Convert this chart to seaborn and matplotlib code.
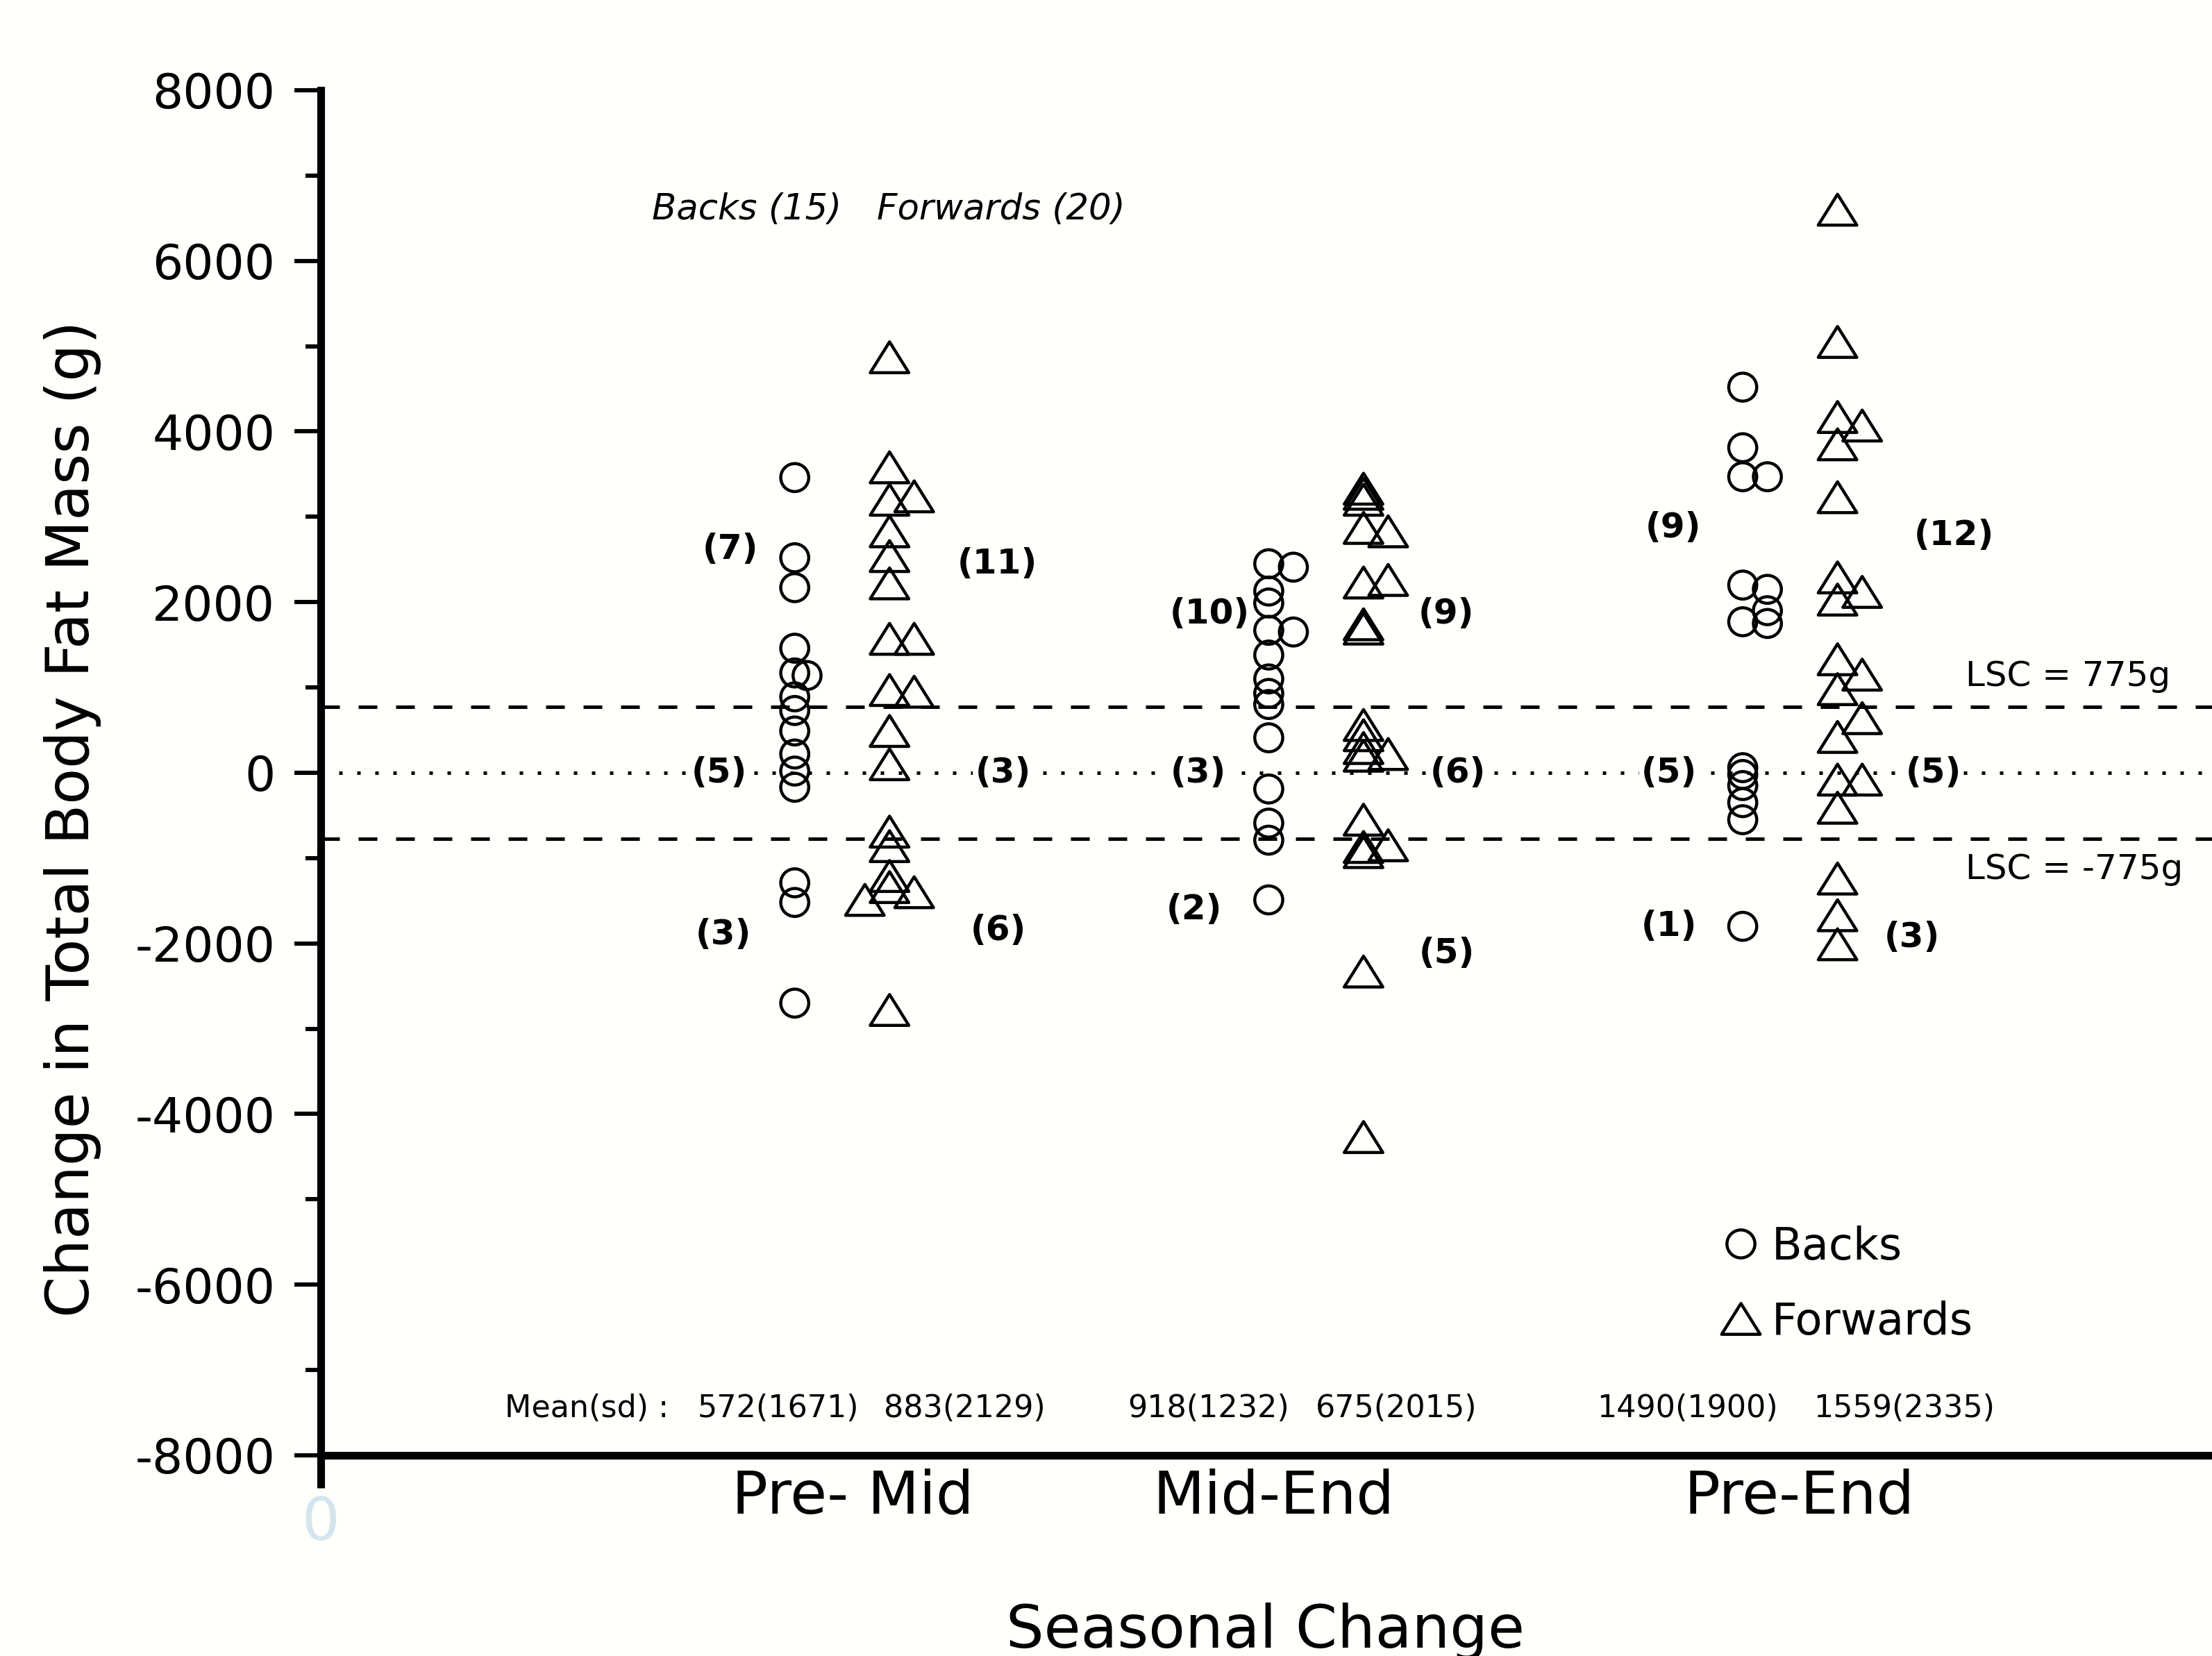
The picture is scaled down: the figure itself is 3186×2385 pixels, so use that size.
import matplotlib
matplotlib.use("Agg")
import matplotlib.pyplot as plt
import pandas as pd
import seaborn as sns
from matplotlib.lines import Line2D
from matplotlib.path import Path
from matplotlib.ticker import MultipleLocator

# ---- data ----------------------------------------------------------------
PERIODS = ["Pre- Mid", "Mid-End", "Pre-End"]
GROUPS = ["Backs", "Forwards"]

# change in total body fat mass (g) per player
PM_BACKS = [3460, 2520, 2170, 1460, 1170, 1140, 890, 730, 490, 220, 20, -170,
            -1290, -1520, -2700]
PM_FWDS = [4870, 3580, 3240, 3200, 2830, 2540, 2220, 1570, 1570, 970, 950,
           490, 100, -690, -860, -1210, -1340, -1400, -1490, -2780]
ME_BACKS = [2450, 2410, 2130, 1990, 1670, 1650, 1380, 1100, 930, 800, 410,
            -190, -590, -790, -1490]
ME_FWDS = [3330, 3270, 3200, 2870, 2830, 2260, 2230, 1740, 1690, 560, 440,
           290, 220, 200, -550, -850, -870, -930, -2330, -4270]
PE_BACKS = [4520, 3810, 3470, 3470, 2200, 2150, 1900, 1770, 1750, 60, -20,
            -150, -350, -550, -1800]
PE_FWDS = [6600, 5050, 4170, 4070, 3850, 3230, 2290, 2120, 2030, 1330, 1150,
           980, 640, 420, -80, -80, -410, -1240, -1670, -2010]

# side-step of overlapping symbols (0 = on the column, 1 = nudged right)
PM_BACKS_SIDE = [0, 0, 0, 0, 0, 0.5, 0, 0, 0, 0, 0, 0, 0, 0, 0]
PM_FWDS_SIDE = [0, 0, 1, 0, 0, 0, 0, 0, 1, 0, 1, 0, 0, 0, 0, 0, 0, 1, -1, 0]
ME_BACKS_SIDE = [0, 1, 0, 0, 0, 1, 0, 0, 0, 0, 0, 0, 0, 0, 0]
ME_FWDS_SIDE = [0, 0, 0, 0, 1, 1, 0, 0, 0, 0, 0, 0, 1, 0, 0, 1, 0, 0, 0, 0]
PE_BACKS_SIDE = [0, 0, 0, 1, 0, 1, 1, 0, 1, 0, 0, 0, 0, 0, 0]
PE_FWDS_SIDE = [0, 0, 0, 1, 0, 0, 0, 1, 0, 0, 1, 0, 1, 0, 0, 1, 0, 0, 0, 0]

# counts above / within / below the least significant change
LSC = 775
BACKS_N_ABOVE = [7, 10, 9]
BACKS_N_WITHIN = [5, 3, 5]
BACKS_N_BELOW = [3, 2, 1]
FWDS_N_ABOVE = [11, 9, 12]
FWDS_N_WITHIN = [3, 6, 5]
FWDS_N_BELOW = [6, 5, 3]

# group summaries, order: Pre-Mid B, F, Mid-End B, F, Pre-End B, F
MEANS = [572, 883, 918, 675, 1490, 1559]
SDS = [1671, 2129, 1232, 2015, 1900, 2335]

# ---- layout ---------------------------------------------------------------
PERIOD_X = {"Pre- Mid": 10, "Mid-End": 20, "Pre-End": 30}
GROUP_DX = {"Backs": 0, "Forwards": 2}
DODGE = 0.52
CAT_LABEL_X = [11.22, 20.1, 31.2]
MEAN_X = [9.65, 13.58, 18.73, 22.69, 28.84, 33.4]
BACKS_ABOVE_XY = [(8.64, 2620), (18.76, 1860), (28.54, 2870)]
BACKS_WITHIN_XY = [(8.4, 0), (18.52, 0), (28.45, 0)]
BACKS_BELOW_XY = [(8.49, -1900), (18.43, -1600), (28.45, -1800)]
FWDS_ABOVE_XY = [(14.27, 2450), (23.75, 1860), (34.46, 2780)]
FWDS_WITHIN_XY = [(14.39, 0), (23.99, 0), (34.02, 0)]
FWDS_BELOW_XY = [(14.29, -1850), (23.75, -2120), (33.57, -1930)]

BG = "#fffffc"
TRI = Path([(-1, -0.8), (1, -0.8), (0, 0.8), (-1, -0.8)], closed=True)
CIRCLE_PT = 14.5
TRI_PT = 20

rows = []
for period, group, vals, sides in [
    ("Pre- Mid", "Backs", PM_BACKS, PM_BACKS_SIDE),
    ("Pre- Mid", "Forwards", PM_FWDS, PM_FWDS_SIDE),
    ("Mid-End", "Backs", ME_BACKS, ME_BACKS_SIDE),
    ("Mid-End", "Forwards", ME_FWDS, ME_FWDS_SIDE),
    ("Pre-End", "Backs", PE_BACKS, PE_BACKS_SIDE),
    ("Pre-End", "Forwards", PE_FWDS, PE_FWDS_SIDE),
]:
    for v, s in zip(vals, sides):
        rows.append({"period": period, "group": group, "change": v, "side": s})
df = pd.DataFrame(rows)
df["x"] = df["period"].map(PERIOD_X) + df["group"].map(GROUP_DX) + df["side"] * DODGE

sns.set_style("ticks")
plt.rcParams["font.family"] = ["DejaVu Sans"]
plt.rcParams["text.color"] = "black"
plt.rcParams["axes.labelcolor"] = "black"
plt.rcParams["xtick.color"] = "black"
plt.rcParams["ytick.color"] = "black"
plt.rcParams["axes.unicode_minus"] = False

fig = plt.figure(figsize=(15.93, 11.925), dpi=200, facecolor=BG)
ax = fig.add_axes([0.145, 0.1212, 0.855, 0.8243])
ax.set_facecolor(BG)

sns.scatterplot(
    data=df, x="x", y="change", style="group", size="group",
    markers={"Backs": "o", "Forwards": TRI},
    sizes={"Backs": CIRCLE_PT ** 2, "Forwards": TRI_PT ** 2},
    color="black", legend=False, ax=ax, zorder=3,
)
for coll in ax.collections:
    coll.set_facecolor("none")
    coll.set_edgecolor("black")
    coll.set_linewidth(1.6)

# LSC reference lines
ax.axhline(LSC, color="black", lw=1.8, ls=(0, (5.4, 5.4)), zorder=2)
ax.axhline(-LSC, color="black", lw=1.8, ls=(0, (5.4, 5.4)), zorder=2)
ax.axhline(0, color="black", lw=1.8, ls=(0, (1, 4.2)), zorder=1)
ax.text(34.7, 1130, f"LSC = {LSC}g", fontsize=18, va="center", ha="left")
ax.text(34.7, -1130, f"LSC = -{LSC}g", fontsize=18, va="center", ha="left")

# counts
count_font = dict(fontsize=18, fontweight="bold", ha="center", va="center", zorder=4)
for i in range(3):
    for n, xy in [(BACKS_N_ABOVE[i], BACKS_ABOVE_XY[i]),
                  (BACKS_N_BELOW[i], BACKS_BELOW_XY[i]),
                  (FWDS_N_ABOVE[i], FWDS_ABOVE_XY[i]),
                  (FWDS_N_BELOW[i], FWDS_BELOW_XY[i])]:
        ax.text(xy[0], xy[1], f"({n})", **count_font)
    for n, xy in [(BACKS_N_WITHIN[i], BACKS_WITHIN_XY[i]),
                  (FWDS_N_WITHIN[i], FWDS_WITHIN_XY[i])]:
        ax.text(xy[0], xy[1], f"({n})",
                bbox=dict(fc=BG, ec="none", pad=1), **count_font)

# group header and mean(sd)
ax.text(6.99, 6600, f"Backs ({len(PM_BACKS)})", fontsize=18.5,
        style="italic", va="center", ha="left")
ax.text(11.74, 6600, f"Forwards ({len(PM_FWDS)})", fontsize=18.5,
        style="italic", va="center", ha="left")
ax.text(3.88, -7450, "Mean(sd) :", fontsize=16, va="center", ha="left")
for xm, m, s in zip(MEAN_X, MEANS, SDS):
    ax.text(xm, -7450, f"{m}({s})", fontsize=16, va="center", ha="center")

# axes
ax.set_xlim(0, 39.9)
ax.set_ylim(-8000, 8000)
ax.set_yticks(range(-8000, 8001, 2000))
ax.yaxis.set_minor_locator(MultipleLocator(1000))
ax.tick_params(axis="y", which="major", direction="out", length=13.7,
               width=2.2, pad=10, labelsize=25)
ax.tick_params(axis="y", which="minor", direction="out", length=8, width=2.2)
ax.set_xticks([0])
ax.set_xticklabels(["0"])
ax.set_xticks(CAT_LABEL_X, minor=True)
ax.set_xticklabels(PERIODS, minor=True)
ax.tick_params(axis="x", which="major", direction="out", length=17, width=4,
               pad=3.5, labelsize=31, labelcolor="#d5e5ee")
ax.tick_params(axis="x", which="minor", length=0, pad=6.5, labelsize=31)

for side in ["top", "right"]:
    ax.spines[side].set_visible(False)
for side in ["left", "bottom"]:
    ax.spines[side].set_linewidth(4)
    ax.spines[side].set_color("black")

ax.set_xlabel("Seasonal Change", fontsize=31)
ax.xaxis.set_label_coords(0.4994, -0.108)
ax.xaxis.label.set_va("top")
ax.set_ylabel("Change in Total Body Fat Mass (g)", fontsize=30.5)
ax.yaxis.set_label_coords(-0.116, 0.466)

handles = [
    Line2D([], [], ls="none", marker="o", ms=CIRCLE_PT, mfc="none",
           mec="black", mew=1.6, label="Backs"),
    Line2D([], [], ls="none", marker=TRI, ms=TRI_PT, mfc="none",
           mec="black", mew=1.6, label="Forwards"),
]
ax.legend(handles=handles, loc="center left", bbox_to_anchor=(0.739, 0.1253),
          frameon=False, fontsize=23, handlelength=1.0, handletextpad=0.2,
          labelspacing=0.72, borderpad=0, borderaxespad=0)

fig.savefig("out.png", dpi=200, facecolor=BG)
